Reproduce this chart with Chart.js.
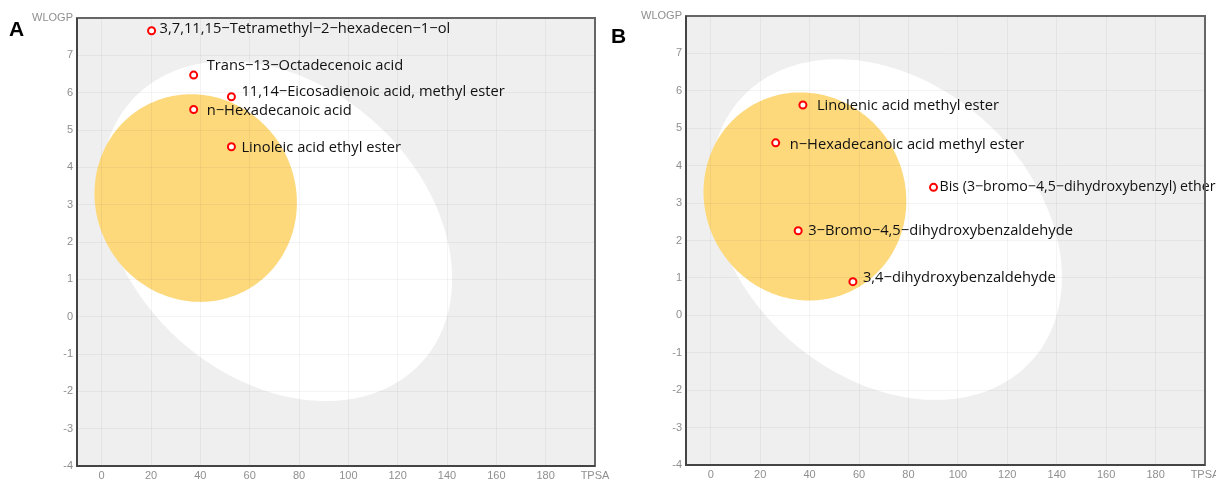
<!DOCTYPE html>
<html>
<head>
<meta charset="utf-8">
<script src="https://cdn.jsdelivr.net/npm/chart.js@4"></script>
<style>
  html, body { margin: 0; padding: 0; background: #fff; overflow: hidden; }
  body { width: 1216px; height: 479px; position: relative; }
  .panel { position: absolute; top: 0; height: 479px; }
  #wrap-a { left: 0; width: 620px; }
  #wrap-b { left: 605px; width: 625px; }
  .tag { position: absolute; font: bold 21px "Liberation Sans", Arial, sans-serif; color: #000; }
</style>
</head>
<body>
<div class="panel" id="wrap-a"><canvas id="chart-a"></canvas></div>
<div class="panel" id="wrap-b"><canvas id="chart-b"></canvas></div>
<div class="tag" style="left:9px; top:17px;">A</div>
<div class="tag" style="left:611px; top:24px;">B</div>
<script>
// panel A compounds
const namesA = [
  "3,7,11,15\u2212Tetramethyl\u22122\u2212hexadecen\u22121\u2212ol",
  "Trans\u221213\u2212Octadecenoic acid",
  "11,14\u2212Eicosadienoic acid, methyl ester",
  "n\u2212Hexadecanoic acid",
  "Linoleic acid ethyl ester"
];
const tpsaA = [20.23, 37.3, 52.6, 37.3, 52.6];
const wlogpA = [7.66, 6.47, 5.89, 5.55, 4.55];

// panel B compounds
const namesB = [
  "Linolenic acid methyl ester",
  "n\u2212Hexadecanoic acid methyl ester",
  "Bis (3\u2212bromo\u22124,5\u2212dihydroxybenzyl) ether",
  "3\u2212Bromo\u22124,5\u2212dihydroxybenzaldehyde",
  "3,4\u2212dihydroxybenzaldehyde"
];
const tpsaB = [37.3, 26.3, 90.15, 35.4, 57.53];
const wlogpB = [5.62, 4.61, 3.42, 2.26, 0.90];

// axis ticks
const xTicks = [0, 20, 40, 60, 80, 100, 120, 140, 160, 180, 200];
const yTicks = [-4, -3, -2, -1, 0, 1, 2, 3, 4, 5, 6, 7, 8];

// boiled-egg regions: center TPSA, center WLOGP, width, height, angle (deg)
const eggWhite = [71.051, 2.292, 142.081, 8.740, -1.031325];
const eggYolk = [38.117, 3.177, 82.061, 5.557, -0.171887];

// label nudges (px) relative to the marker
const offsetsA = [[8, -2], [13, -9], [10, -5], [13, 1], [10, 1]];
const offsetsB = [[14, 1], [14, 2], [6, 0], [10, 0], [10, -4]];
const labelSizeA = [14.7, 14.7, 14.7, 14.7, 14.7];
const labelSizeB = [14.7, 14.7, 14.2, 14.7, 14.7];

const drawEllipse = (chart, params, color) => {
  const ctx = chart.ctx;
  const xs = chart.scales.x;
  const ys = chart.scales.y;
  const [cx, cy, w, h, deg] = params;
  const a = w / 2, b = h / 2, t = deg * Math.PI / 180;
  ctx.beginPath();
  for (let i = 0; i <= 240; i++) {
    const s = i / 240 * Math.PI * 2;
    const x = cx + a * Math.cos(t) * Math.cos(s) - b * Math.sin(t) * Math.sin(s);
    const y = cy + a * Math.sin(t) * Math.cos(s) + b * Math.cos(t) * Math.sin(s);
    const px = xs.getPixelForValue(x);
    const py = ys.getPixelForValue(y);
    if (i === 0) ctx.moveTo(px, py); else ctx.lineTo(px, py);
  }
  ctx.closePath();
  ctx.fillStyle = color;
  ctx.fill();
};

const eggPlugin = {
  id: 'egg',
  beforeDraw(chart) {
    const { ctx, chartArea } = chart;
    ctx.save();
    ctx.beginPath();
    ctx.rect(chartArea.left, chartArea.top, chartArea.width, chartArea.height);
    ctx.clip();
    ctx.fillStyle = '#efefef';
    ctx.fillRect(chartArea.left, chartArea.top, chartArea.width, chartArea.height);
    drawEllipse(chart, eggWhite, '#ffffff');
    drawEllipse(chart, eggYolk, '#fdd97c');
    ctx.restore();
  },
  afterDraw(chart) {
    const { ctx, chartArea } = chart;
    ctx.save();
    ctx.strokeStyle = '#666';
    ctx.lineWidth = 2;
    ctx.strokeRect(chartArea.left, chartArea.top, chartArea.width, chartArea.height);
    ctx.strokeStyle = '#444';
    ctx.beginPath();
    ctx.moveTo(chartArea.left, chartArea.top);
    ctx.lineTo(chartArea.left, chartArea.bottom);
    ctx.lineTo(chartArea.right, chartArea.bottom);
    ctx.stroke();
    ctx.restore();
  }
};

const labelPlugin = {
  id: 'names',
  afterDatasetsDraw(chart, args, opts) {
    const ctx = chart.ctx;
    const meta = chart.getDatasetMeta(0);
    ctx.save();
    ctx.fillStyle = '#111';
    ctx.textBaseline = 'middle';
    ctx.textAlign = 'left';
    meta.data.forEach((pt, i) => {
      const [dx, dy] = opts.offsets[i];
      ctx.font = opts.sizes[i] + 'px "Open Sans", Lato, sans-serif';
      ctx.fillText(opts.names[i], pt.x + dx, pt.y + dy);
    });
    ctx.restore();
  }
};

const makeChart = (id, names, tpsa, wlogp, offsets, sizes, pad, yWidth, xHeight) => {
  const points = tpsa.map((v, i) => ({ x: v, y: wlogp[i] }));
  return new Chart(document.getElementById(id), {
    type: 'scatter',
    data: {
      datasets: [{
        data: points,
        pointStyle: 'circle',
        pointRadius: 3.5,
        pointBorderWidth: 2,
        pointBorderColor: '#ff0000',
        pointBackgroundColor: '#ffffff'
      }]
    },
    plugins: [eggPlugin, labelPlugin],
    options: {
      responsive: true,
      maintainAspectRatio: false,
      animation: false,
      events: [],
      layout: { padding: pad },
      plugins: {
        legend: { display: false },
        tooltip: { enabled: false },
        names: { names: names, offsets: offsets, sizes: sizes }
      },
      scales: {
        x: {
          type: 'linear',
          min: -10,
          max: 200,
          afterBuildTicks: (scale) => { scale.ticks = xTicks.map(v => ({ value: v })); },
          afterFit: (scale) => { scale.height = xHeight; },
          grid: { color: 'rgba(0,0,0,0.045)', drawTicks: false },
          border: { display: false },
          ticks: {
            padding: 3,
            color: '#8f8f8f',
            font: { family: '"Liberation Sans", Arial, sans-serif', size: 11 },
            maxRotation: 0,
            autoSkip: false,
            callback: (v) => v === 200 ? 'TPSA' : v
          }
        },
        y: {
          type: 'linear',
          min: -4,
          max: 8,
          afterBuildTicks: (scale) => { scale.ticks = yTicks.map(v => ({ value: v })); },
          afterFit: (scale) => { scale.width = yWidth; },
          grid: { color: 'rgba(0,0,0,0.045)', drawTicks: false },
          border: { display: false },
          ticks: {
            padding: 4,
            color: '#8f8f8f',
            font: { family: '"Liberation Sans", Arial, sans-serif', size: 11 },
            autoSkip: false,
            callback: (v) => v === 8 ? 'WLOGP' : v
          }
        }
      }
    }
  });
};

makeChart('chart-a', namesA, tpsaA, wlogpA, offsetsA, labelSizeA,
  { left: 0, top: 18, right: 25, bottom: 0 }, 77, 13);
makeChart('chart-b', namesB, tpsaB, wlogpB, offsetsB, labelSizeB,
  { left: 0, top: 16, right: 25, bottom: 0 }, 81, 14);
</script>
</body>
</html>
